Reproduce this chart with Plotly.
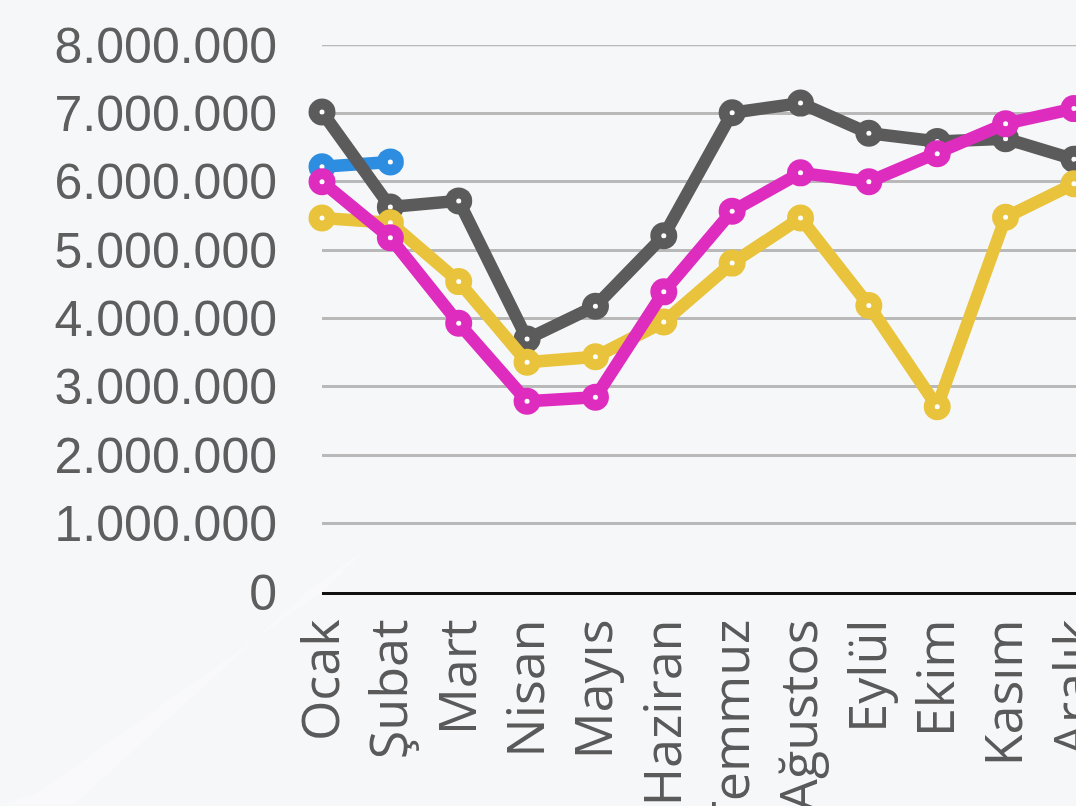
import plotly.graph_objects as go

# Month labels (Turkish)
months = ["Ocak", "Şubat", "Mart", "Nisan", "Mayıs", "Haziran",
          "Temmuz", "Ağustos", "Eylül", "Ekim", "Kasım", "Aralık"]

# Monthly values per series
gray_vals = [7020000, 5630000, 5720000, 3700000, 4180000, 5210000,
             7010000, 7150000, 6710000, 6590000, 6630000, 6330000]
magenta_vals = [6000000, 5180000, 3930000, 2790000, 2850000, 4390000,
                5570000, 6130000, 6000000, 6410000, 6850000, 7070000]
yellow_vals = [5470000, 5400000, 4540000, 3360000, 3440000, 3950000,
               4810000, 5470000, 4190000, 2710000, 5480000, 5970000]
blue_vals = [6220000, 6290000]

y_ticks = [0, 1000000, 2000000, 3000000, 4000000, 5000000, 6000000, 7000000, 8000000]
y_tick_text = ["0", "1.000.000", "2.000.000", "3.000.000", "4.000.000",
               "5.000.000", "6.000.000", "7.000.000", "8.000.000"]
y_max = y_ticks[-1]

series = [
    (months[:len(blue_vals)], blue_vals, "#2d8de0"),
    (months, gray_vals, "#5b5b5b"),
    (months, yellow_vals, "#e8c33b"),
    (months, magenta_vals, "#de2cbf"),
]

fig = go.Figure()
for xs, ys, color in series:
    fig.add_trace(go.Scatter(
        x=xs, y=ys, mode="lines+markers",
        line=dict(color=color, width=12.5),
        marker=dict(size=27, color=color, line=dict(width=0)),
        cliponaxis=False, showlegend=False, hoverinfo="skip",
    ))
    fig.add_trace(go.Scatter(
        x=xs, y=ys, mode="markers",
        marker=dict(size=5, color="white", line=dict(width=0)),
        cliponaxis=False, showlegend=False, hoverinfo="skip",
    ))

# top gridline sits on the plot edge, so draw it explicitly
fig.add_shape(type="line", xref="paper", yref="y", layer="below",
              x0=0, x1=1, y0=y_max, y1=y_max,
              line=dict(color="#b9b9b9", width=2.5))

# faint light streak in the lower-left of the background
fig.add_shape(type="path", xref="paper", yref="paper", layer="below",
              path="M -0.43 -0.39 L -0.38 -0.37 L 0.0 0.0 L 0.06 0.08 L -0.02 0.0 L -0.33 -0.39 Z",
              fillcolor="rgba(255,255,255,0.3)", line=dict(width=0))

fig.update_layout(
    width=1076, height=806,
    margin=dict(l=322, r=0, t=45, b=214),
    paper_bgcolor="#f6f7f9",
    plot_bgcolor="rgba(0,0,0,0)",
    xaxis=dict(
        type="category", categoryorder="array", categoryarray=months,
        range=[0, 11.03], showgrid=False, zeroline=False,
        showline=True, linecolor="#111111", linewidth=2.5,
        tickangle=-90, ticks="", ticklabelstandoff=4,
        tickfont=dict(family="Open Sans", size=52, color="#5a5a5a"),
        automargin=False,
    ),
    yaxis=dict(
        range=[0, y_max], tickvals=y_ticks, ticktext=y_tick_text,
        showgrid=True, gridcolor="#b9b9b9", gridwidth=2.5,
        zeroline=False, showline=False, ticks="", ticklabelstandoff=44,
        tickfont=dict(family="Liberation Sans", size=50, color="#5e5e5e"),
        automargin=False,
    ),
)

fig.write_html("out.html")
